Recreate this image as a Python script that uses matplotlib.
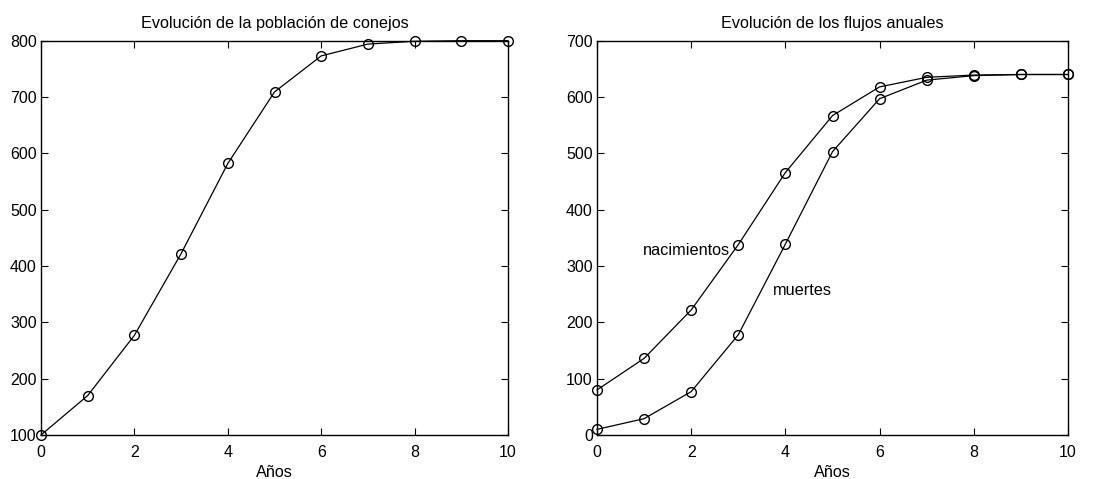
import matplotlib
matplotlib.use("Agg")
import matplotlib.pyplot as plt

plt.rcParams['font.family'] = ['Liberation Sans', 'DejaVu Sans']
plt.rcParams['font.size'] = 11.7

# datos
anios = [0, 1, 2, 3, 4, 5, 6, 7, 8, 9, 10]
poblacion = [100, 170, 277, 422, 582, 709, 773, 794, 799, 800, 800]
nacimientos = [80, 136, 222, 338, 466, 567, 618, 635, 639, 640, 640]
muertes = [10, 29, 77, 178, 339, 503, 597, 630, 638, 640, 640]

xticks = [0, 2, 4, 6, 8, 10]
yticks_pob = [100, 200, 300, 400, 500, 600, 700, 800]
yticks_flujo = [0, 100, 200, 300, 400, 500, 600, 700]


def estilo_matlab(ax):
    """ejes tipo matlab: caja completa y ticks hacia dentro"""
    ax.tick_params(direction='in', length=5, width=0.8, top=True, right=True,
                   labelsize=11.5, colors='black')
    ax.tick_params(axis='x', pad=7)
    ax.tick_params(axis='y', pad=3)
    for s in ax.spines.values():
        s.set_linewidth(1.0)


fig = plt.figure(figsize=(11.12, 4.79), dpi=100)

ax1 = fig.add_axes([41 / 1112, 1 - 435 / 479, (508 - 41) / 1112, (435 - 40.7) / 479])
ax1.plot(anios, poblacion, 'k-o', lw=0.9, markersize=7, mfc='none', mew=1.0)
ax1.set_xlim(0, 10)
ax1.set_ylim(100, 800)
ax1.set_xticks(xticks)
ax1.set_yticks(yticks_pob)
ax1.set_title('Evolución de la población de conejos', fontsize=11.7, pad=9)
ax1.set_xlabel('Años', labelpad=4)
estilo_matlab(ax1)

ax2 = fig.add_axes([597 / 1112, 1 - 435 / 479, (1068 - 597) / 1112, (435 - 40.7) / 479])
ax2.plot(anios, nacimientos, 'k-o', lw=0.9, markersize=7, mfc='none', mew=1.0)
ax2.plot(anios, muertes, 'k-o', lw=0.9, markersize=7, mfc='none', mew=1.0)
ax2.set_xlim(0, 10)
ax2.set_ylim(0, 700)
ax2.set_xticks(xticks)
ax2.set_yticks(yticks_flujo)
ax2.set_title('Evolución de los flujos anuales', fontsize=11.7, pad=9)
ax2.set_xlabel('Años', labelpad=4)
ax2.text(0.98, 327, 'nacimientos', va='center', ha='left', fontsize=11.7)
ax2.text(3.74, 256, 'muertes', va='center', ha='left', fontsize=11.7)
estilo_matlab(ax2)

for ax in (ax1, ax2):
    for m in ax.lines:
        m.set_clip_on(False)

fig.savefig('out.png', dpi=100)
